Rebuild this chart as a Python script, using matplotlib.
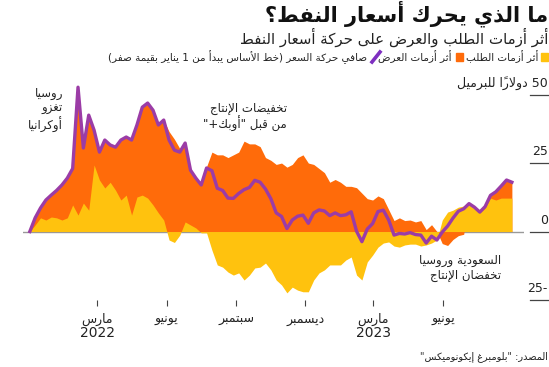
import matplotlib
matplotlib.use('Agg')
import matplotlib.pyplot as plt
import matplotlib.transforms as mtransforms
from matplotlib.patches import Rectangle
from matplotlib.lines import Line2D
import numpy as np
import pandas as pd

# weekly readings, Dec 2021 .. end of Aug 2023 ($/bbl change since start)
dates = pd.date_range('2021-12-02', '2023-08-31', periods=91)

demand = [0, 2.4, 5, 4.2, 5.3, 5, 4.2, 5, 9.7, 6,
          10.4, 7.8, 24.3, 18.8, 15.9, 18, 15.1, 11.5, 13.3, 6,
          12.6, 13.3, 12.2, 9.7, 6.8, 4.2, -3.1, -4, -1.3, 3.5,
          2.4, 1.3, -0.5, -0.5, -6.8, -12.2, -13, -14.8, -15.9, -15.1,
          -17.7, -15.9, -13.3, -13, -11.5, -14, -17.7, -19.5, -22.4, -20.3,
          -21.4, -22, -22, -17.7, -15.1, -14, -12.2, -12.2, -12.2, -10.4,
          -9.3, -15.9, -17.7, -11.1, -8.6, -5.7, -4.2, -3.8, -5.3, -5.7,
          -4.9, -4.6, -4.6, -5.3, -4.9, -4.2, -3.1, 4.2, 7.1, 7.8,
          8.9, 9.3, 9.7, 8.6, 6.8, 8.6, 12.2, 11.5, 12.2, 12.2,
          12.2]

supply = [0, 2.6, 3.6, 7.3, 8, 10, 12.8, 14.5, 13.3, 46.7,
          20.1, 34.7, 12.7, 10.2, 17.5, 13.6, 15.7, 21.9, 21.2, 27.4,
          26.3, 32.1, 34.7, 34.6, 32.1, 36.5, 36.5, 33.7, 30.3, 28.8,
          20, 18.2, 17.5, 23.7, 29, 28, 28, 27, 28, 29,
          33, 32, 32, 31, 27, 26, 24.5, 25, 23.5, 24.5,
          27, 28, 25, 24.5, 23, 21.5, 18, 19, 18, 16.5,
          16.5, 16, 14, 12, 11.5, 13, 12, 8, 4, 5,
          4, 4.2, 3.5, 4, 0.7, 2.5, 0, -4.4, -5.1, -2.9,
          -1.5, -1, 0.5, 0.3, 0.3, 0.5, 1, 3, 4.4, 6.6,
          5.8]

tick_dates = pd.to_datetime(['2022-03-01', '2022-06-01', '2022-09-01',
                             '2022-12-01', '2023-03-01', '2023-06-01'])
tick_months = ['مارس', 'يونيو', 'سبتمبر', 'ديسمبر', 'مارس', 'يونيو']
year_labels = ['2022', '2023']
year_ticks = [0, 4]
y_levels = [50, 25, 0, -25]

title = 'ما الذي يحرك أسعار النفط؟'
subtitle = 'أثر أزمات الطلب والعرض على حركة أسعار النفط'
leg_demand = 'أثر أزمات الطلب'
leg_supply = 'أثر أزمات العرض'
leg_net = 'صافي حركة السعر (خط الأساس يبدأ من 1 يناير بقيمة صفر)'
unit = 'دولاراً للبرميل'
note_russia = ['روسيا', 'تغزو', 'أوكرانيا']
note_opec = ['تخفيضات الإنتاج', 'من قبل "أوبك+"']
note_saudi = ['السعودية وروسيا', 'تخفضان الإنتاج']
source = 'المصدر: "بلومبرغ إيكونوميكس"'

# --- tiny arabic shaper (matplotlib has no shaping / bidi) ---
FORMS = {}
for ch, base, n in [('\u0621', 0xFE80, 1), ('\u0622', 0xFE81, 2), ('\u0623', 0xFE83, 2),
                    ('\u0624', 0xFE85, 2), ('\u0625', 0xFE87, 2), ('\u0626', 0xFE89, 4),
                    ('\u0627', 0xFE8D, 2), ('\u0628', 0xFE8F, 4), ('\u0629', 0xFE93, 2),
                    ('\u062A', 0xFE95, 4), ('\u062B', 0xFE99, 4), ('\u062C', 0xFE9D, 4),
                    ('\u062D', 0xFEA1, 4), ('\u062E', 0xFEA5, 4), ('\u062F', 0xFEA9, 2),
                    ('\u0630', 0xFEAB, 2), ('\u0631', 0xFEAD, 2), ('\u0632', 0xFEAF, 2),
                    ('\u0633', 0xFEB1, 4), ('\u0634', 0xFEB5, 4), ('\u0635', 0xFEB9, 4),
                    ('\u0636', 0xFEBD, 4), ('\u0637', 0xFEC1, 4), ('\u0638', 0xFEC5, 4),
                    ('\u0639', 0xFEC9, 4), ('\u063A', 0xFECD, 4), ('\u0641', 0xFED1, 4),
                    ('\u0642', 0xFED5, 4), ('\u0643', 0xFED9, 4), ('\u0644', 0xFEDD, 4),
                    ('\u0645', 0xFEE1, 4), ('\u0646', 0xFEE5, 4), ('\u0647', 0xFEE9, 4),
                    ('\u0648', 0xFEED, 2), ('\u0649', 0xFEEF, 2), ('\u064A', 0xFEF1, 4)]:
    FORMS[ch] = [chr(base + k) for k in range(n)]
LAM_ALEF = {'\u0622': ('\uFEF5', '\uFEF6'), '\u0623': ('\uFEF7', '\uFEF8'),
            '\u0625': ('\uFEF9', '\uFEFA'), '\u0627': ('\uFEFB', '\uFEFC')}
MIRROR = {'(': ')', ')': '('}


def is_mark(c):
    return '\u064B' <= c <= '\u0652'


def shape(s):
    out = []
    n = len(s)
    i = 0
    while i < n:
        c = s[i]
        if c in FORMS:
            j = i - 1
            while j >= 0 and is_mark(s[j]):
                j -= 1
            p = s[j] if j >= 0 else None
            pj = p in FORMS and len(FORMS[p]) == 4
            k = i + 1
            while k < n and is_mark(s[k]):
                k += 1
            nx = s[k] if k < n else None
            if c == '\u0644' and nx in LAM_ALEF:
                out.append(LAM_ALEF[nx][1] if pj else LAM_ALEF[nx][0])
                i = k + 1
                continue
            f = FORMS[c]
            nj = len(f) == 4 and nx in FORMS and len(FORMS[nx]) >= 2
            if len(f) == 1:
                g = f[0]
            elif pj and nj:
                g = f[3]
            elif pj:
                g = f[1]
            elif nj:
                g = f[2]
            else:
                g = f[0]
            out.append(g)
        elif is_mark(c) and out:
            out[-1] += c
        else:
            out.append(c)
        i += 1
    return out


def rtl(s):
    toks = []
    for g in shape(s):
        if g.isdigit() and toks and toks[-1].isdigit():
            toks[-1] += g
        else:
            toks.append(g)
    return ''.join(MIRROR.get(t, t) for t in toks[::-1])


W, H = 549, 367
fig = plt.figure(figsize=(W / 100, H / 100), dpi=100)


def fx(x):
    return x / W


def fy(y):
    return 1 - y / H


YELLOW = '#FFC20E'
ORANGE = '#FF6B0A'
PURPLE = '#9B3CA6'
TXT = '#222222'

ax = fig.add_axes([fx(23), fy(300), fx(524) - fx(23), fy(85) - fy(300)])

d = np.array(demand)
s = np.array(supply)
net = d + s
same = np.sign(s) == np.sign(d)
orange_edge = np.where(same, d + s, s)

ax.axhline(0, color='#999999', lw=1, zorder=1)
ax.fill_between(dates, 0, orange_edge, color=ORANGE, linewidth=0, zorder=2)
ax.fill_between(dates, 0, d, color=YELLOW, linewidth=0, zorder=2)
ax.plot(dates, net, color=PURPLE, lw=2.4, zorder=3, solid_joinstyle='round')

ax.set_xlim(pd.Timestamp('2021-11-23'), pd.Timestamp('2023-09-16'))
ax.set_ylim(-25, 53.5)
for sp in ax.spines.values():
    sp.set_visible(False)
ax.set_yticks([])
ax.set_xticks(tick_dates)
ax.set_xticklabels([rtl(m) for m in tick_months], fontsize=9, color=TXT)
ax.tick_params(axis='x', length=4, width=0.8, color='#444444', pad=5)

# years under first month of each year
tr = mtransforms.blended_transform_factory(ax.transData, fig.transFigure)
for lab, k in zip(year_labels, year_ticks):
    ax.text(tick_dates[k], fy(333), lab, transform=tr, ha='center', va='center',
            fontsize=10, color=TXT)

# short gridlines + labels on the right
tr2 = mtransforms.blended_transform_factory(fig.transFigure, ax.transData)
for v in y_levels:
    ax.add_line(Line2D([fx(530), fx(549)], [v, v], transform=tr2, color='#444444',
                       lw=0.9, clip_on=False))
    lab = rtl(str(v))
    if v == 50:
        lab = rtl('50 ' + unit)
    ax.text(fx(548), v + 4.2, lab, transform=tr2, ha='right', va='center',
            fontsize=9, color=TXT)

# title block
fig.text(fx(548), fy(14), rtl(title), ha='right', va='center', fontsize=15,
         fontweight='bold', color='#111111')
fig.text(fx(548), fy(37), rtl(subtitle), ha='right', va='center', fontsize=10.8,
         color=TXT)

# legend
fig.add_artist(Rectangle((fx(541), fy(61)), fx(7), fy(0) - fy(8), color=YELLOW,
                         transform=fig.transFigure))
fig.text(fx(538), fy(57), rtl(leg_demand), ha='right', va='center', fontsize=7.5,
         color=TXT)
fig.add_artist(Rectangle((fx(456), fy(61)), fx(7), fy(0) - fy(8), color=ORANGE,
                         transform=fig.transFigure))
fig.text(fx(452), fy(57), rtl(leg_supply), ha='right', va='center', fontsize=7.5,
         color=TXT)
fig.add_artist(Line2D([fx(372), fx(380)], [fy(62), fy(52)], color='#7E2FC0', lw=2.6,
                      transform=fig.transFigure))
fig.text(fx(367), fy(57), rtl(leg_net), ha='right', va='center', fontsize=7.5,
         color=TXT)

# annotations
fig.text(fx(63), fy(110), '\n'.join(rtl(t) for t in note_russia), ha='right',
         va='center', ma='right', fontsize=8.5, color=TXT, linespacing=1.15)
fig.text(fx(287), fy(117), '\n'.join(rtl(t) for t in note_opec), ha='right',
         va='center', ma='right', fontsize=8.5, color=TXT, linespacing=1.1)
fig.text(fx(501), fy(268), '\n'.join(rtl(t) for t in note_saudi), ha='right',
         va='center', ma='right', fontsize=8.5, color=TXT, linespacing=1.1)

fig.text(fx(548), fy(357), rtl(source), ha='right', va='center', fontsize=7,
         color=TXT)

fig.savefig('out.png', dpi=100, facecolor='white')
